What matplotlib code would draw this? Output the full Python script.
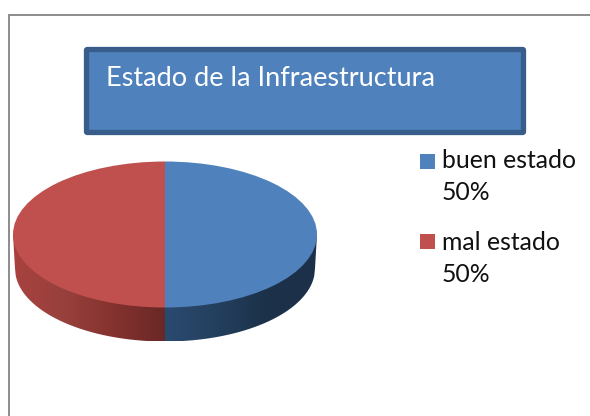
import numpy as np
import matplotlib
matplotlib.use("Agg")
import matplotlib.pyplot as plt
from matplotlib.colors import LinearSegmentedColormap
from matplotlib.patches import FancyBboxPatch, Rectangle

W, H = 590, 416

title = "Estado de la Infraestructura"
categories = ["buen estado", "mal estado"]
values = [50, 50]
colors = ["#4F81BD", "#C0504D"]


def main():
    plt.rcParams["font.family"] = ["Lato", "DejaVu Sans"]
    fig = plt.figure(figsize=(W / 100, H / 100), dpi=100)

    # whole figure in pixels, y going down
    bg = fig.add_axes([0, 0, 1, 1])
    bg.set_xlim(0, W)
    bg.set_ylim(H, 0)
    bg.axis("off")

    # chart frame, only left and top are visible
    bg.plot([9, 9, W], [H, 14.5, 14.5], color="#8C8C8C", lw=1.4, solid_joinstyle="miter")

    # title box
    bg.add_patch(FancyBboxPatch((86.5, 49.5), 437, 83, boxstyle="round,pad=0,rounding_size=1",
                                fc="#4F81BD", ec="#385D8A", lw=3.8))
    bg.text(106, 79, title, color="white", fontsize=19.5, va="center", ha="left")

    # side of the pie
    cx, cy, rx, ry, depth = 165, 234.5, 152, 73, 34
    rx_low = 150
    side_red = LinearSegmentedColormap.from_list("r", ["#A8423F", "#98403C", "#84322F", "#692826"])
    side_blue = LinearSegmentedColormap.from_list("b", ["#2B4A70", "#24405F", "#1C3149", "#1C3149"])
    for cmap, x0, x1 in [(side_red, cx - rx, cx), (side_blue, cx, cx + rx)]:
        im = bg.imshow(np.linspace(0, 1, 256).reshape(1, -1), cmap=cmap, aspect="auto",
                       extent=[x0, x1, cy + ry + depth, cy - 1], zorder=2)
        xs = np.linspace(max(x0, cx - rx_low), min(x1, cx + rx_low), 200)
        ys = cy + ry * np.sqrt(np.clip(1 - ((xs - cx) / rx_low) ** 2, 0, 1)) + depth
        verts = np.column_stack([np.r_[x0, xs, x1], np.r_[cy, ys, cy]])
        clip = plt.Polygon(verts, transform=bg.transData, fc="none", ec="none")
        bg.add_patch(clip)
        im.set_clip_path(clip)
    bg.set_xlim(0, W)
    bg.set_ylim(H, 0)

    # top of the pie, squashed by its axes
    top = fig.add_axes([(cx - rx) / W, 1 - (cy + ry) / H, 2 * rx / W, 2 * ry / H], zorder=3)
    top.pie(values, colors=colors, startangle=90, counterclock=False, radius=1)
    top.set_aspect("auto")
    top.set_xlim(-1, 1)
    top.set_ylim(-1, 1)
    top.patch.set_alpha(0)

    # legend
    rows = [(161, 193), (242, 274)]
    squares = [154, 234]
    for name, value, color, (y1, y2), sq in zip(categories, values, colors, rows, squares):
        bg.add_patch(Rectangle((420, sq), 15, 15, fc=color, ec="none"))
        bg.text(442, y1, name, fontsize=17.8, color="#111111", va="center", ha="left")
        bg.text(442, y2, f"{value}%", fontsize=17.8, color="#111111", va="center", ha="left")

    fig.savefig("out.png", dpi=100)


if __name__ == "__main__":
    main()
